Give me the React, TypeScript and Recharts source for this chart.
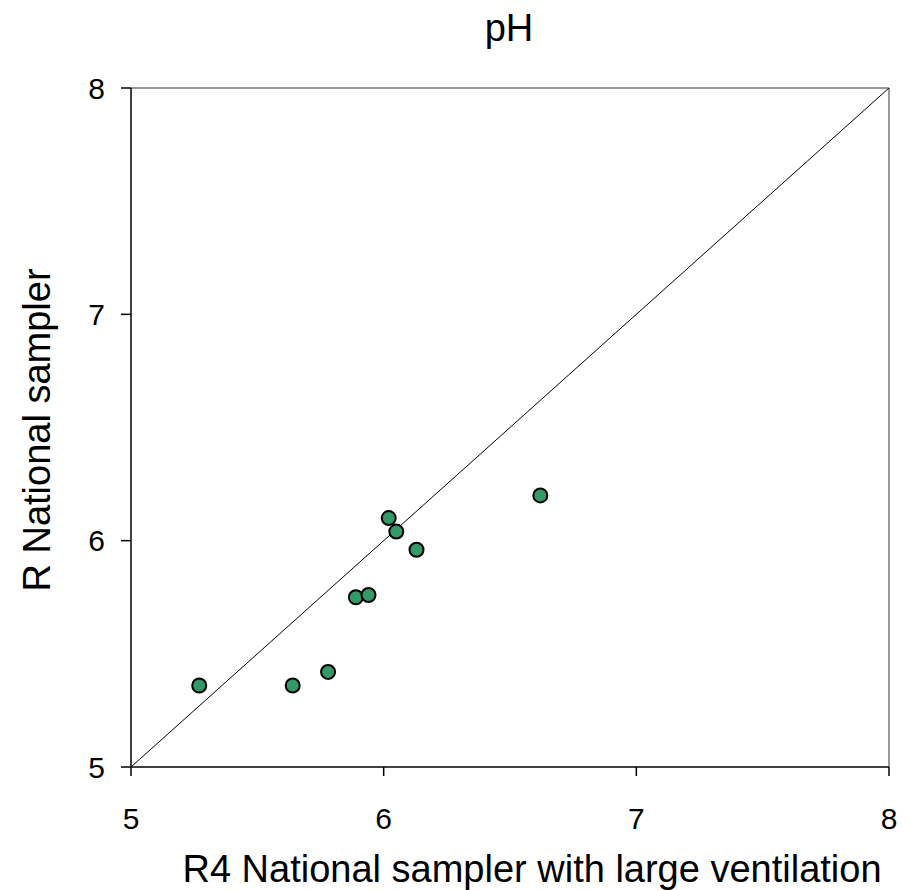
import React from 'react';
import {
  ScatterChart,
  Scatter,
  XAxis,
  YAxis,
  ReferenceLine,
  Label,
} from 'recharts';

// pH: R4 sampler (x) vs R sampler (y)
const r4Values = [5.27, 5.64, 5.78, 5.89, 5.94, 6.02, 6.05, 6.13, 6.62];
const rValues = [5.36, 5.36, 5.42, 5.75, 5.76, 6.1, 6.04, 5.96, 6.2];
const axisTicks = [5, 6, 7, 8];

const points = r4Values.map((x, i) => ({ x, y: rValues[i] }));

const FONT = 'Arial, "Liberation Sans", sans-serif';

const Dot = (props: any) => {
  const { cx, cy } = props;
  return <circle cx={cx} cy={cy} r={7} fill="#339966" stroke="#000" strokeWidth={2} />;
};

const App: React.FC = () => {
  return (
    <div style={{ position: 'absolute', left: 0, top: 0, width: 909, height: 890, background: '#fff' }}>
      <ScatterChart
        width={909}
        height={890}
        margin={{ top: 88, right: 20, left: 0, bottom: 0 }}
        style={{ fontFamily: FONT }}
      >
        <text x={509} y={41} textAnchor="middle" fontSize={38} fill="#000" fontFamily={FONT}>
          pH
        </text>
        <XAxis
          type="number"
          dataKey="x"
          domain={[5, 8]}
          ticks={axisTicks}
          height={123}
          stroke="#000"
          strokeWidth={1.5}
          tickSize={9}
          tickMargin={32}
          fontSize={30}
          tick={{ fill: '#000', fontSize: 30, fontFamily: FONT }}
          allowDataOverflow
        >
          <Label
            content={() => (
              <text x={532} y={882} textAnchor="middle" fontSize={38} fill="#000" fontFamily={FONT}>
                R4 National sampler with large ventilation
              </text>
            )}
          />
        </XAxis>
        <YAxis
          type="number"
          dataKey="y"
          domain={[5, 8]}
          ticks={axisTicks}
          width={131}
          stroke="#000"
          strokeWidth={1.5}
          tickSize={10}
          tickMargin={16}
          fontSize={30}
          tick={{ fill: '#000', fontSize: 30, fontFamily: FONT }}
          allowDataOverflow
        >
          <Label
            content={() => (
              <text
                x={50}
                y={430}
                transform="rotate(-90, 50, 430)"
                textAnchor="middle"
                fontSize={38}
                fill="#000"
                fontFamily={FONT}
              >
                R National sampler
              </text>
            )}
          />
        </YAxis>
        <ReferenceLine y={8} stroke="#999" strokeWidth={2} />
        <ReferenceLine x={8} stroke="#999" strokeWidth={2} />
        <ReferenceLine
          segment={[
            { x: 5, y: 5 },
            { x: 8, y: 8 },
          ]}
          stroke="#000"
          strokeWidth={1}
        />
        <Scatter data={points} shape={<Dot />} isAnimationActive={false} />
      </ScatterChart>
    </div>
  );
};

export default App;
